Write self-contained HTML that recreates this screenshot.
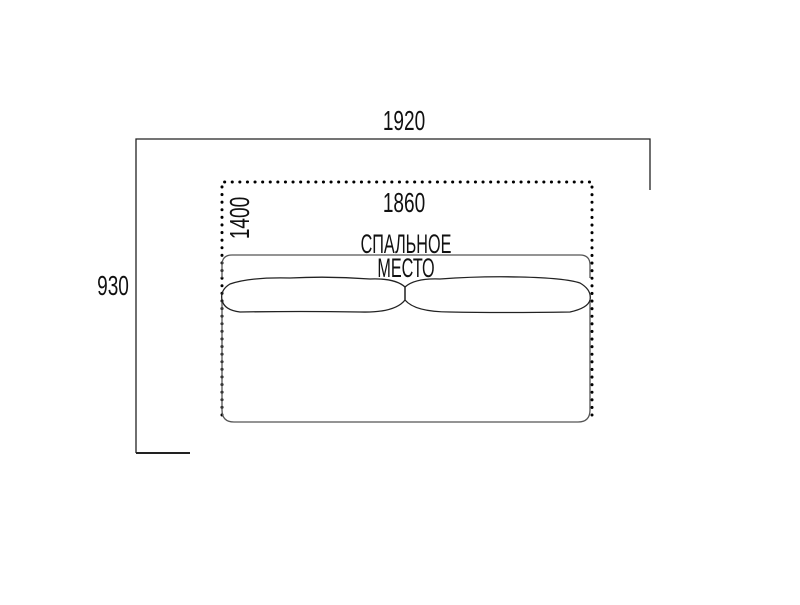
<!DOCTYPE html>
<html><head><style>
body{margin:0;background:#fff}
text{font-family:"Liberation Sans Narrow","Liberation Sans",sans-serif;fill:#111}
</style></head><body>
<svg width="800" height="600" xmlns="http://www.w3.org/2000/svg">
<g stroke="#222" fill="none" stroke-width="1.3">
<polyline points="136,453 136,139 650,139 650,190"/>
<line x1="136" y1="453" x2="190" y2="453" stroke-width="2"/>
<polyline points="222,415 222,182 592,182 592,415" stroke="#000" stroke-width="3" stroke-dasharray="0.1 7.5" stroke-linecap="round"/>
<path d="M222,278 L222,265 Q222,255 232,255 L580,255 Q590,255 590,265 L590,278" stroke="#555"/>
<path d="M222,300 L222,410 Q222,422 234,422 L578,422 Q590,422 590,410 L590,300" stroke="#555"/>
<path d="M405,287 Q395,278 370,279 Q330,276 290,278 Q250,277 230,284 Q220,290 222,300 Q224,310 240,312 Q300,311 360,312 Q395,313 405,300 Z"/>
<path d="M405,287 Q415,278 440,279 Q480,276 520,277 Q565,278 580,283 Q592,290 590,300 Q588,308 570,312 Q500,313 450,312 Q415,312 405,300 Z"/>
</g>
<g font-size="28" text-anchor="middle">
<text x="404" y="130" transform="translate(404 0) scale(0.68 1) translate(-404 0)">1920</text>
<text x="404" y="212" transform="translate(404 0) scale(0.68 1) translate(-404 0)">1860</text>
<text x="113" y="295" transform="translate(113 0) scale(0.68 1) translate(-113 0)">930</text>
<text transform="translate(249 218) rotate(-90) scale(0.68 1)">1400</text>
</g>
<g font-size="27" text-anchor="middle">
<text x="406" y="253" transform="translate(406 0) scale(0.6 1) translate(-406 0)">СПАЛЬНОЕ</text>
<text x="406" y="277" transform="translate(406 0) scale(0.6 1) translate(-406 0)">МЕСТО</text>
</g>
</svg>
</body></html>
